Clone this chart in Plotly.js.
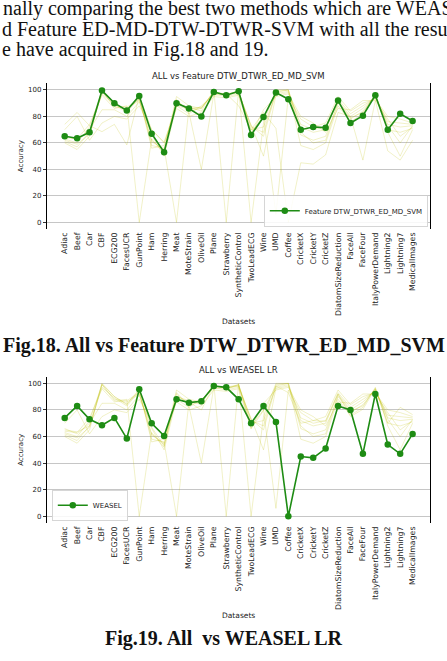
<!DOCTYPE html>
<html><head><meta charset="utf-8">
<script src="https://cdn.plot.ly/plotly-3.0.1.min.js"></script>
<style>html,body{margin:0;padding:0;background:#fff;overflow:hidden}</style>
</head><body><div id="chart" style="width:447px;height:661px"></div>
<script>
const categories = ["Adiac","Beef","Car","CBF","ECG200","FacesUCR","GunPoint","Ham","Herring","Meat",
  "MoteStrain","OliveOil","Plane","Strawberry","SyntheticControl","TwoLeadECG","Wine","UMD","Coffee",
  "CricketX","CricketY","CricketZ","DiatomSizeReduction","FaceAll","FaceFour","ItalyPowerDemand",
  "Lightning2","Lightning7","MedicalImages"];
const featureSVM = [65,63.5,68,99.5,90,84.5,95.5,67,53,90,86,80,98.5,96,99,66,79.5,98,93,70,72,71.5,92,75,80.5,96,70,82,76.5];
const weasel = [74,83,73,68.5,74,58.5,95.5,70,60.5,88,85.5,86.5,98,97,88,70,83,71,0,45,44,51,83,80,47,92,54,47,62];
const method1 = [63,60,72,99,87,86,92,62,54,92,84,86,99,96,99,72,68,99,100,72,68,70,92,80,86,95,74,72,73];
const method2 = [61,57,68,97,89,83,94,58,56,0,86,87,98,97,98,70,72,97,99,66,62,65,90,78,84,96,70,68,71];
const method3 = [64,63,74,96,86,88,0,63,52,93,83,40,97,95,97,74,50,96,98,74,70,72,93,82,88,94,76,75,74];
const method4 = [60,55,65,100,90,84,95,56,58,90,87,84,100,0,100,0,75,100,100,58,55,60,88,76,82,97,68,50,70];
const method5 = [66,62,70,85,85,80,91,66,50,88,82,88,96,97,99,68,80,6,95,78,72,75,95,84,90,93,80,78,75];
const method6 = [70,80,62,75,80,78,88,70,60,86,80,83,95,94,96,66,85,95,97,80,75,68,86,85,92,92,78,65,72];
const method7 = [62,59,67,99,88,87,93,61,55,95,88,86,98,96,98,73,65,98,100,68,60,62,91,79,83,96,73,60,73];
const yTicks = [0,20,40,60,80,100];
const gridPositions = categories.map((c,i)=>i).slice(2);

const others = [method1,method2,method3,method4,method5,method6,method7];
const faint = 'rgba(191,191,0,0.22)';
const mainGreen = 'rgb(30,140,20)';
const traces = [];
function bg(vals, xa, ya){
  traces.push({x:categories, y:vals, xaxis:xa, yaxis:ya, type:'scatter', mode:'lines',
    line:{color:faint, width:1}, showlegend:false, hoverinfo:'skip'});
}
others.concat([weasel]).forEach(v=>bg(v,'x3','y'));
others.concat([featureSVM]).forEach(v=>bg(v,'x4','y2'));
traces.push({x:categories, y:featureSVM, xaxis:'x3', yaxis:'y', type:'scatter', mode:'lines+markers',
  name:'Feature DTW_DTWR_ED_MD_SVM', line:{color:mainGreen, width:1.6}, marker:{color:mainGreen, size:6.5}, legend:'legend'});
traces.push({x:categories, y:weasel, xaxis:'x4', yaxis:'y2', type:'scatter', mode:'lines+markers',
  name:'WEASEL', line:{color:mainGreen, width:1.6}, marker:{color:mainGreen, size:6.5}, legend:'legend2'});

const xdom = [47.3/447, 430/447];
const xr = [-1.4, 29.4];
const d1 = [1-229/661, 1-83.3/661];
const d2 = [1-523/661, 1-376.7/661];
const tickFont = {family:'DejaVu Sans', size:7, color:'#222'};
const xTickFont = {family:'DejaVu Sans', size:7.8, color:'#222'};
function baseX(anchor){
  return {domain:xdom, anchor:anchor, type:'linear', range:xr, tickvals:gridPositions, showticklabels:false,
    showgrid:true, gridcolor:'#b8b8b8', gridwidth:0.8, ticks:'outside', ticklen:3.5, tickcolor:'#000', tickwidth:0.8,
    showline:true, mirror:true, linecolor:'#000', linewidth:1, zeroline:false, fixedrange:true};
}
function overX(over, anchor){
  return {overlaying:over, anchor:anchor, domain:xdom, type:'category', range:xr, showgrid:false, ticks:'',
    tickangle:-90, tickfont:xTickFont, ticklabelstandoff:1, showline:false, zeroline:false, fixedrange:true};
}
function yax(dom, anchor){
  return {domain:dom, anchor:anchor, range:[-5,105], tickvals:yTicks, tickfont:tickFont,
    showgrid:true, gridcolor:'#b8b8b8', gridwidth:0.8, ticks:'outside', ticklen:3.5, tickcolor:'#000', tickwidth:0.8,
    showline:true, mirror:true, linecolor:'#000', linewidth:1, zeroline:false, fixedrange:true,
    title:{text:'Accuracy', font:{family:'DejaVu Sans', size:7, color:'#222'}}};
}
const serif = 'Liberation Serif, Times New Roman, serif';
const xc = (xdom[0]+xdom[1])/2;
const small = {family:'DejaVu Sans', size:7.5, color:'#222'};
const layout = {
  width:447, height:661, margin:{l:0,r:0,t:0,b:0}, paper_bgcolor:'#fff', plot_bgcolor:'#fff',
  showlegend:true,
  xaxis:baseX('y'), yaxis:yax(d1,'x'), xaxis3:overX('x','y'),
  xaxis2:baseX('y2'), yaxis2:yax(d2,'x2'), xaxis4:overX('x2','y2'),
  legend:{x:428/447, y:1-226.5/661, xanchor:'right', yanchor:'bottom', bgcolor:'rgba(255,255,255,0.85)',
    bordercolor:'#ccc', borderwidth:0.8, font:{family:'DejaVu Sans', size:7, color:'#222'}, itemwidth:30, tracegroupgap:0},
  legend2:{x:52/447, y:1-521/661, xanchor:'left', yanchor:'bottom', bgcolor:'rgba(255,255,255,0.85)',
    bordercolor:'#ccc', borderwidth:0.8, font:{family:'DejaVu Sans', size:7, color:'#222'}, itemwidth:30, tracegroupgap:0},
  annotations:[
    {text:'nally comparing the best two methods which are WEASEL', xref:'paper', yref:'paper', x:0, y:1-8.5/661, xanchor:'left', yanchor:'middle', showarrow:false, xshift:1, font:{family:serif, size:20, color:'#111'}},
    {text:'d Feature ED-MD-DTW-DTWR-SVM with all the resu', xref:'paper', yref:'paper', x:0, y:1-29/661, xanchor:'left', yanchor:'middle', showarrow:false, xshift:0, font:{family:serif, size:20, color:'#111'}},
    {text:'e have acquired in Fig.18 and 19.', xref:'paper', yref:'paper', x:0, y:1-50/661, xanchor:'left', yanchor:'middle', showarrow:false, xshift:0, font:{family:serif, size:20, color:'#111'}},
    {text:'ALL vs Feature DTW_DTWR_ED_MD_SVM', xref:'paper', yref:'paper', x:xc, y:d1[1], yanchor:'bottom', showarrow:false, yshift:0, font:{family:'DejaVu Sans', size:8.5, color:'#222'}},
    {text:'ALL vs WEASEL LR', xref:'paper', yref:'paper', x:xc, y:d2[1], yanchor:'bottom', showarrow:false, yshift:0, font:{family:'DejaVu Sans', size:8.5, color:'#222'}},
    {text:'Datasets', xref:'paper', yref:'paper', x:xc, y:1-321/661, yanchor:'middle', showarrow:false, font:small},
    {text:'Datasets', xref:'paper', yref:'paper', x:xc, y:1-615/661, yanchor:'middle', showarrow:false, font:small},
    {text:'<b>Fig.18. All vs Feature DTW_DTWR_ED_MD_SVM</b>', xref:'paper', yref:'paper', x:0.5, y:1-345/661, yanchor:'middle', showarrow:false, font:{family:serif, size:20, color:'#111'}},
    {text:'<b>Fig.19. All&nbsp; vs WEASEL LR</b>', xref:'paper', yref:'paper', x:0.5, y:1-638/661, yanchor:'middle', showarrow:false, font:{family:serif, size:20, color:'#111'}}
  ]
};
Plotly.newPlot('chart', traces, layout, {staticPlot:true, displayModeBar:false});
</script></body></html>
